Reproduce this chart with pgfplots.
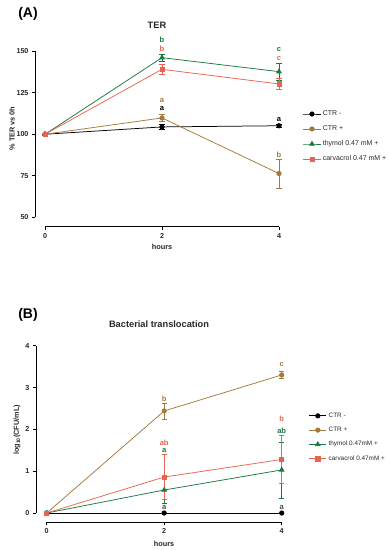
\documentclass[border=0pt]{standalone}
\usepackage{fontspec}
\setmainfont{Liberation Sans}
\usepackage{pgfplots}
\pgfplotsset{compat=1.18}
\definecolor{ctrp}{RGB}{163,122,60}
\definecolor{thy}{RGB}{25,120,62}
\definecolor{car}{RGB}{233,100,80}
\definecolor{txt}{RGB}{40,40,40}
\pgfplotsset{prism/.style={
  scale only axis, clip=false,
  axis lines*=left, axis line style={draw=none},
  tick align=outside, major tick length=3bp,
  tick style={black, line width=0.8pt},
  xtick={0,2,4},
  /pgf/number format/assume math mode=true,
  ticklabel style={font=\bfseries\fontsize{7.2}{8}\selectfont, text=txt},
  legend cell align=left,
  legend style={draw=none, fill=none, inner sep=0pt, text=txt},
  every axis plot/.append style={line width=0.75pt},
  error bars/error bar style={line width=0.7pt},
  error bars/error mark options={rotate=90, mark size=2.6bp, line width=0.7pt},
},
s1/.style={black, mark=*, mark size=2.2bp, mark options={solid}},
s2/.style={ctrp, mark=*, mark size=2.2bp},
s3/.style={thy, mark=triangle*, mark size=2.6bp},
s4/.style={car, mark=square*, mark size=2.1bp},
}
\begin{document}
\begin{tikzpicture}
\useasboundingbox (0,0) rectangle (390bp,-550bp);
% ---------------- Panel A ----------------
\begin{axis}[prism,
  at={(35bp,-226.7bp)}, anchor=south west,
  width=244bp, height=175.7bp,
  xmin=-0.171, xmax=4, ymin=44.47, ymax=150,
  ytick={50,75,100,125,150},
  legend style={at={(1.098,0.672)}, anchor=north west, font=\fontsize{7}{8}\selectfont, row sep=4.6bp},
]
\draw[line width=0.8pt] (axis cs:-0.171,50) -- (axis cs:-0.171,150);
\draw[line width=0.8pt] (axis cs:0,44.47) -- (axis cs:4,44.47);
\addplot[s1, error bars/.cd, y dir=both, y explicit] table[x=x, y=y, y error=e] {
x y e
0 100 0
2 104.4 1.3
4 105.1 1.0
};
\addplot[s2, error bars/.cd, y dir=both, y explicit] table[x=x, y=y, y error=e] {
x y e
0 100 0
2 109.8 2.2
4 76.4 8.7
};
\addplot[s3, error bars/.cd, y dir=both, y explicit] table[x=x, y=y, y error=e] {
x y e
0 100 0
2 146.0 2.2
4 137.6 5.0
};
\addplot[s4, error bars/.cd, y dir=both, y explicit] table[x=x, y=y, y error=e] {
x y e
0 100 0
2 139.0 3.2
4 130.2 3.5
};
\legend{CTR -, CTR +, thymol 0.47 mM +, carvacrol 0.47 mM +}
\begin{scope}[every node/.style={font=\bfseries\fontsize{7.6}{8}\selectfont, inner sep=0pt}]
\node[text=thy] at (axis cs:2,156.5) {b};
\node[text=car] at (axis cs:2,151.2) {b};
\node[text=ctrp] at (axis cs:2,120.3) {a};
\node[text=black] at (axis cs:2,115.2) {a};
\node[text=thy] at (axis cs:4,150.8) {c};
\node[text=car] at (axis cs:4,145.3) {c};
\node[text=black] at (axis cs:4,108.8) {a};
\node[text=ctrp] at (axis cs:4,87.8) {b};
\end{scope}
\end{axis}
\node[font=\bfseries\fontsize{14}{15}\selectfont] at (28bp,-14bp) {(A)};
\node[font=\bfseries\fontsize{9.3}{10}\selectfont, text=txt] at (157bp,-25bp) {TER};
\node[font=\bfseries\fontsize{7.4}{8}\selectfont, text=txt] at (162bp,-246.5bp) {hours};
\node[font=\bfseries\fontsize{7.3}{8}\selectfont, text=txt, rotate=90] at (12bp,-128.5bp) {\% TER vs 0h};
% ---------------- Panel B ----------------
\begin{axis}[prism,
  at={(36bp,-522.3bp)}, anchor=south west,
  width=245.7bp, height=176.6bp,
  xmin=-0.182, xmax=4, ymin=-0.222, ymax=4,
  ytick={0,1,2,3,4},
  legend style={at={(1.11,0.632)}, anchor=north west, font=\fontsize{6.4}{7}\selectfont, row sep=4.3bp},
]
\draw[line width=0.8pt] (axis cs:-0.182,0) -- (axis cs:-0.182,4);
\draw[line width=0.8pt] (axis cs:0,-0.222) -- (axis cs:4,-0.222);
\addplot[s1, error bars/.cd, y dir=both, y explicit] table[x=x, y=y, y error=e] {
x y e
0 0 0
2 0 0
4 0 0
};
\addplot[s2, error bars/.cd, y dir=both, y explicit] table[x=x, y=y, y error=e] {
x y e
0 0 0
2 2.44 0.19
4 3.30 0.09
};
\addplot[s3, error bars/.cd, y dir=both, y explicit] table[x=x, y=y, y error=e] {
x y e
0 0 0
2 0.55 0.33
4 1.03 0.67
};
\addplot[s4, error bars/.cd, y dir=both, y explicit] table[x=x, y=y, y error=e] {
x y e
0 0 0
2 0.86 0.54
4 1.28 0.57
};
\legend{CTR -, CTR +, thymol 0.47mM +, carvacrol 0.47mM +}
\begin{scope}[every node/.style={font=\bfseries\fontsize{7.6}{8}\selectfont, inner sep=0pt}]
\node[text=ctrp] at (axis cs:2,2.73) {b};
\node[text=car] at (axis cs:2,1.69) {ab};
\node[text=thy] at (axis cs:2,1.50) {a};
\node[text=black!70] at (axis cs:2,0.14) {a};
\node[text=ctrp] at (axis cs:4,3.54) {c};
\node[text=car] at (axis cs:4,2.25) {b};
\node[text=thy] at (axis cs:4,1.97) {ab};
\node[text=black!70] at (axis cs:4,0.14) {a};
\end{scope}
\end{axis}
\node[font=\bfseries\fontsize{14}{15}\selectfont] at (28bp,-315bp) {(B)};
\node[font=\bfseries\fontsize{9.3}{10}\selectfont, text=txt] at (159bp,-324.5bp) {Bacterial translocation};
\node[font=\bfseries\fontsize{7.4}{8}\selectfont, text=txt] at (164bp,-543.5bp) {hours};
\node[font=\bfseries\fontsize{7.3}{8}\selectfont, text=txt, rotate=90] at (17bp,-430bp) {log\textsubscript{10}(CFU/mL)};
\end{tikzpicture}
\end{document}
